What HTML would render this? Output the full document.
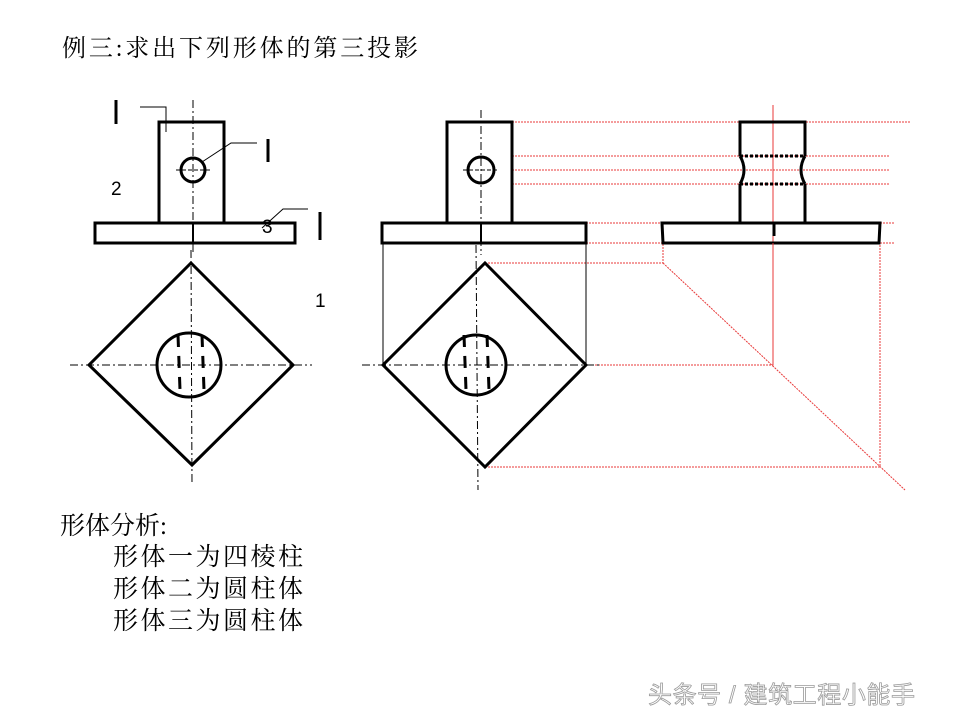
<!DOCTYPE html>
<html><head><meta charset="utf-8"><style>
body{margin:0;background:#fff;}
svg{display:block}
.t{font-family:"Liberation Serif","Noto Serif CJK SC",serif;fill:#000}
</style></head><body>
<svg width="960" height="720" viewBox="0 0 960 720" xmlns="http://www.w3.org/2000/svg">
<text class="t" x="62" y="56" font-size="24" textLength="356">例三:求出下列形体的第三投影</text>

<!-- red construction lines -->
<g stroke="#e83a3a" stroke-width="1" fill="none" stroke-dasharray="2 1">
<line x1="512" y1="122" x2="910" y2="122"/>
<line x1="512" y1="156" x2="890" y2="156"/>
<line x1="512" y1="170" x2="890" y2="170"/>
<line x1="512" y1="184" x2="890" y2="184"/>
<line x1="586" y1="223" x2="895" y2="223"/>
<line x1="586" y1="243" x2="895" y2="243"/>
<polyline points="485,263 663,263 663,243"/>
<line x1="663" y1="263" x2="905" y2="490"/>
<polyline points="586,365 773,365 773,243"/>
<polyline points="485,467 880,467 880,243"/>
<line x1="773" y1="105" x2="773" y2="243" stroke-dasharray="none"/>
</g>

<g stroke="#000" fill="none">
<rect x="159" y="122" width="65" height="101" stroke-width="3"/>
<rect x="95" y="223" width="200" height="20" stroke-width="3"/>
<circle cx="193" cy="170" r="12" stroke-width="3"/>
<line x1="193" y1="100" x2="193" y2="255" stroke-width="1" stroke-dasharray="8 3 2 3"/>
<line x1="176" y1="170" x2="212" y2="170" stroke-width="1" stroke-dasharray="4 2"/>
<line x1="193" y1="223" x2="193" y2="243" stroke-width="2"/>
<polyline points="140,107 166,107 166,132" stroke-width="1"/>
<polyline points="202,162 231,143 257,143" stroke-width="1"/>
<polyline points="262,228 283,209 308,209" stroke-width="1"/>
<line x1="116" y1="100" x2="116" y2="124" stroke-width="3"/>
<line x1="268" y1="139" x2="268" y2="162" stroke-width="3"/>
<line x1="320" y1="212" x2="320" y2="240" stroke-width="3"/>

<polygon points="191,263 293,365 192,465 89,365" stroke-width="3"/>
<circle cx="189" cy="365" r="32" stroke-width="3"/>
<line x1="191" y1="250" x2="192" y2="485" stroke-width="1" stroke-dasharray="8 3 2 3"/>
<line x1="70" y1="365" x2="312" y2="365" stroke-width="1" stroke-dasharray="8 3 2 3"/>
<line x1="178" y1="335" x2="180" y2="390" stroke-width="3" stroke-dasharray="12 9"/>
<line x1="202" y1="335" x2="204" y2="390" stroke-width="3" stroke-dasharray="12 9"/>

<rect x="447" y="122" width="65" height="101" stroke-width="3"/>
<rect x="382" y="223" width="204" height="20" stroke-width="3"/>
<circle cx="481" cy="170" r="13" stroke-width="3"/>
<line x1="481" y1="110" x2="481" y2="255" stroke-width="1" stroke-dasharray="8 3 2 3"/>
<line x1="463" y1="170" x2="499" y2="170" stroke-width="1" stroke-dasharray="4 2"/>
<line x1="481" y1="223" x2="481" y2="243" stroke-width="2"/>
<line x1="383" y1="243" x2="383" y2="365" stroke-width="1"/>
<line x1="586" y1="243" x2="586" y2="365" stroke-width="1"/>
<polygon points="485,263 586,365 485,467 383,365" stroke-width="3"/>
<circle cx="476" cy="365" r="30" stroke-width="3"/>
<line x1="476" y1="245" x2="478" y2="490" stroke-width="1" stroke-dasharray="8 3 2 3"/>
<line x1="362" y1="365" x2="600" y2="365" stroke-width="1" stroke-dasharray="8 3 2 3"/>
<line x1="464" y1="335" x2="466" y2="390" stroke-width="3" stroke-dasharray="12 9"/>
<line x1="487" y1="335" x2="489" y2="390" stroke-width="3" stroke-dasharray="12 9"/>

<path d="M740,156 L740,122 L805,122 L805,156 M740,184 L740,223 M805,184 L805,223" stroke-width="3"/>
<path d="M740,156 Q748,170 740,184 M805,156 Q797,170 805,184" stroke-width="3"/>
<line x1="740" y1="156" x2="805" y2="156" stroke-width="3" stroke-dasharray="3 2"/>
<line x1="740" y1="184" x2="805" y2="184" stroke-width="3" stroke-dasharray="3 2"/>
<polygon points="662,223 880,223 879,243 663,243" stroke-width="3"/>
<line x1="774" y1="223" x2="774" y2="236" stroke-width="3"/>
</g>
<line x1="773" y1="243" x2="773" y2="365" stroke="#e83a3a" stroke-width="1"/>

<g font-family="Liberation Sans,sans-serif" font-size="19" fill="#000">
<text x="111" y="195">2</text>
<text x="262" y="233">3</text>
<text x="315" y="307">1</text>
</g>

<g class="t" font-size="25">
<text x="60" y="534">形体分析:</text>
<text x="113" y="565" textLength="190">形体一为四棱柱</text>
<text x="113" y="597" textLength="190">形体二为圆柱体</text>
<text x="113" y="629" textLength="190">形体三为圆柱体</text>
</g>

<text x="648" y="703" font-family="Liberation Sans,'Noto Sans CJK SC',sans-serif" font-size="24" textLength="267" fill="#fff" stroke="#9a9a9a" stroke-width="0.8">头条号 / 建筑工程小能手</text>
</svg>
</body></html>
